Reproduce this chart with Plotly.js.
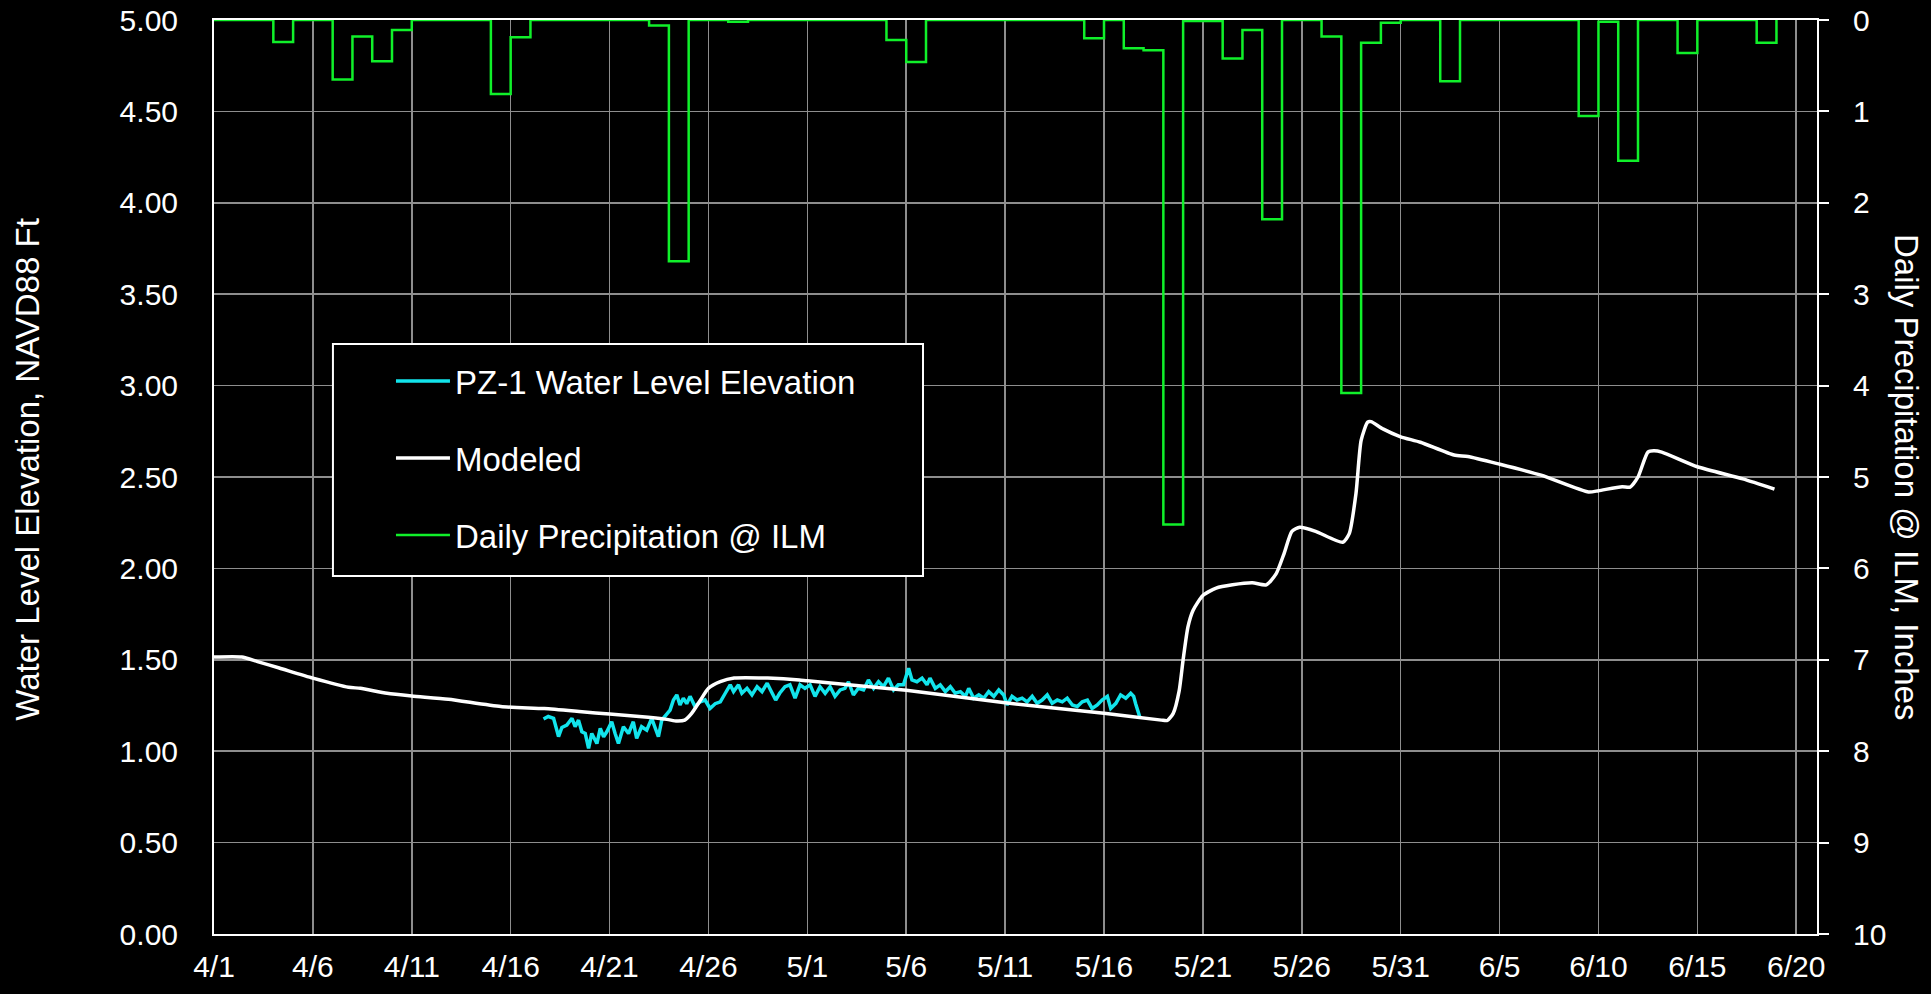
<!DOCTYPE html>
<html><head><meta charset="utf-8">
<script src="https://cdn.plot.ly/plotly-3.0.1.min.js"></script>
<style>html,body{margin:0;padding:0;background:#000;}#chart{width:1931px;height:994px;}</style>
</head><body><div id="chart"></div>
<script>
// ---- data (x = days after 4/1) ----
const startYear = 2019, startMonth = 3, startDay = 1; // 4/1
const xTickLabelsDays = [0,5,10,15,20,25,30,35,40,45,50,55,60,65,70,75,80];

// Daily precipitation @ ILM (inches), one value per day from 4/1
const precipInches = [
  0,0,0,0.24,0,0,0.65,0.18,0.45,0.11,
  0,0,0,0,0.81,0.19,0,0,0,0,
  0,0,0.06,2.64,0,0,0.02,0,0,0,
  0,0,0,0,0.22,0.46,0,0,0,0,
  0,0,0,0,0.20,0,0.31,0.33,5.52,0.01,
  0.01,0.42,0.11,2.18,0,0,0.18,4.08,0.25,0.03,
  0,0,0.67,0,0,0,0,0,0,1.05,
  0.02,1.54,0,0,0.36,0,0,0,0.25,0
];

// Modeled water level (ft NAVD88)
const modeledDays = [0,1.4,2.2,3.3,5,6.8,7.4,8.75,10,11.85,
  14.5,16.7,18.6,20,21.5,22.9,23.4,23.8,24.15,24.6,
  25,25.6,26.3,28,29.6,30,35,40,45,47.9,
  48.2,48.5,48.8,49,49.24,49.5,50,50.67,51.5,52.5,
  53.2,53.7,54.1,54.5,54.9,55.7,57.07,57.4,57.74,58.0,
  58.33,58.5,59.1,60,61,62.7,63.4,65,67.1,69.5,
  70,71.2,71.6,72,72.5,72.8,73.2,75,77.3,78.9];
const modeledFt = [1.515,1.515,1.49,1.455,1.40,1.35,1.344,1.317,1.302,1.284,
  1.244,1.233,1.216,1.203,1.19,1.174,1.165,1.17,1.207,1.28,
  1.344,1.38,1.40,1.40,1.39,1.385,1.333,1.265,1.207,1.17,
  1.168,1.207,1.33,1.50,1.678,1.77,1.852,1.892,1.91,1.921,
  1.91,1.97,2.08,2.203,2.225,2.203,2.143,2.19,2.41,2.70,
  2.80,2.803,2.763,2.72,2.69,2.62,2.612,2.57,2.51,2.418,
  2.425,2.447,2.445,2.50,2.636,2.643,2.636,2.556,2.49,2.434];

// PZ-1 measured water level (ft NAVD88)
const pz1Days = [16.66,16.9,17.17,17.42,17.59,17.84,18.1,18.26,18.43,18.6,
  18.77,18.94,19.1,19.36,19.53,19.7,19.86,20.11,20.28,20.45,
  20.7,20.96,21.2,21.37,21.62,21.88,22.13,22.3,22.47,22.64,
  22.89,23.06,23.23,23.4,23.56,23.73,23.9,24.07,24.32,24.58,
  24.83,25.08,25.34,25.6,25.85,26.1,26.27,26.52,26.69,26.95,
  27.2,27.46,27.71,27.97,28.14,28.4,28.6,28.87,29.12,29.38,
  29.63,29.88,30.14,30.39,30.64,30.9,31.15,31.4,31.66,31.9,
  32.08,32.33,32.58,32.84,33.09,33.35,33.6,33.85,34.1,34.36,
  34.6,34.86,35.12,35.29,35.54,35.8,36.05,36.2,36.47,36.72,
  36.98,37.23,37.48,37.74,37.99,38.16,38.41,38.67,38.92,39.17,
  39.43,39.68,39.93,40.1,40.35,40.6,40.86,41.11,41.37,41.62,
  41.87,42.13,42.38,42.64,42.89,43.14,43.4,43.65,43.9,44.16,
  44.4,44.66,44.9,45.17,45.34,45.6,45.84,46.1,46.35,46.5,
  46.6,46.7,46.8];
const pz1Ft = [1.176,1.19,1.18,1.08,1.13,1.143,1.18,1.134,1.17,1.106,
  1.097,1.015,1.097,1.042,1.125,1.079,1.106,1.161,1.097,1.042,
  1.134,1.097,1.161,1.07,1.134,1.115,1.18,1.134,1.079,1.17,
  1.207,1.225,1.28,1.308,1.253,1.29,1.26,1.30,1.244,1.27,
  1.28,1.234,1.26,1.27,1.317,1.363,1.326,1.363,1.317,1.344,
  1.308,1.353,1.326,1.372,1.335,1.28,1.317,1.353,1.363,1.29,
  1.363,1.344,1.363,1.30,1.353,1.317,1.353,1.30,1.335,1.344,
  1.38,1.308,1.344,1.335,1.39,1.344,1.38,1.353,1.40,1.335,
  1.363,1.363,1.454,1.39,1.38,1.40,1.363,1.40,1.344,1.363,
  1.326,1.353,1.317,1.326,1.30,1.344,1.29,1.308,1.29,1.326,
  1.30,1.335,1.308,1.253,1.30,1.28,1.29,1.27,1.30,1.262,
  1.28,1.308,1.262,1.28,1.27,1.29,1.253,1.244,1.27,1.28,
  1.234,1.253,1.28,1.30,1.234,1.262,1.308,1.29,1.317,1.30,
  1.26,1.22,1.19];

// ---- helpers ----
const DAY_MS = 86400000;
const T0 = Date.UTC(startYear, startMonth, startDay);
const toDate = d => T0 + d * DAY_MS;

const FONT = 'Liberation Sans, Arial, sans-serif';
const GRID = '#8e8e8e';

const traces = [
  {
    name: 'PZ-1 Water Level Elevation',
    x: pz1Days.map(toDate), y: pz1Ft,
    type: 'scatter', mode: 'lines',
    line: {color: '#12E4EC', width: 3.5},
    legendgroup: 'a', xaxis: 'x', yaxis: 'y'
  },
  {
    name: 'Modeled',
    x: modeledDays.map(toDate), y: modeledFt,
    type: 'scatter', mode: 'lines',
    line: {color: '#FFFFFF', width: 3.5, shape: 'spline', smoothing: 0.6},
    legendgroup: 'b', xaxis: 'x', yaxis: 'y'
  },
  {
    name: 'Daily Precipitation @ ILM',
    x: precipInches.map((v, i) => toDate(i)), y: precipInches,
    type: 'scatter', mode: 'lines',
    line: {color: '#10F02A', width: 2.5, shape: 'hv'},
    legendgroup: 'c', xaxis: 'x', yaxis: 'y2'
  }
];

const layout = {
  width: 1931, height: 994,
  paper_bgcolor: '#000', plot_bgcolor: '#000',
  margin: {l: 214, r: 114, t: 20, b: 60},
  font: {family: FONT, color: '#fff', size: 30},
  showlegend: true,
  legend: {
    x: 0.1104, y: 0.6355, xanchor: 'left', yanchor: 'top',
    bgcolor: 'rgba(0,0,0,0)', borderwidth: 0,
    font: {family: FONT, size: 33, color: '#fff'},
    traceorder: 'grouped', tracegroupgap: 31, itemwidth: 54
  },
  xaxis: {
    type: 'date',
    range: [toDate(0), toDate(81.05)],
    tick0: toDate(xTickLabelsDays[0]), dtick: 5 * DAY_MS,
    tickformat: '%-m/%-d',
    showgrid: true, gridcolor: GRID, gridwidth: 1.5,
    showline: true, linecolor: '#fff', linewidth: 2, mirror: true,
    ticks: 'outside', ticklen: 5, tickcolor: 'rgba(0,0,0,0)',
    tickfont: {family: FONT, size: 30, color: '#fff'},
    zeroline: false, fixedrange: true
  },
  yaxis: {
    range: [0, 5], dtick: 0.5, tick0: 0, tickformat: '.2f',
    showgrid: true, gridcolor: GRID, gridwidth: 1.5,
    showline: true, linecolor: '#fff', linewidth: 2,
    ticks: 'outside', ticklen: 28, tickcolor: 'rgba(0,0,0,0)',
    tickfont: {family: FONT, size: 30, color: '#fff'},
    zeroline: false, fixedrange: true
  },
  yaxis2: {
    overlaying: 'y', side: 'right',
    range: [10, 0], dtick: 1, tick0: 0,
    showgrid: false,
    showline: true, linecolor: '#fff', linewidth: 2,
    ticks: 'outside', ticklen: 10, tickcolor: '#fff', tickwidth: 2,
    ticklabelstandoff: 18,
    tickfont: {family: FONT, size: 30, color: '#fff'},
    zeroline: false, fixedrange: true
  },
  shapes: [{
    type: 'rect', xref: 'paper', yref: 'paper', layer: 'above',
    x0: 0.0742, x1: 0.4423, y0: 0.3917, y1: 0.6455,
    fillcolor: '#000', line: {color: '#fff', width: 2}
  }],
  annotations: [
    {text: 'Water Level Elevation, NAVD88 Ft', xref: 'paper', yref: 'paper',
     x: -0.116, y: 0.508, xanchor: 'center', yanchor: 'middle', textangle: -90,
     showarrow: false, font: {family: FONT, size: 33, color: '#fff'}},
    {text: 'Daily Precipitation @ ILM, Inches', xref: 'paper', yref: 'paper',
     x: 1.0555, y: 0.499, xanchor: 'center', yanchor: 'middle', textangle: 90,
     showarrow: false, font: {family: FONT, size: 33, color: '#fff'}}
  ]
};

Plotly.newPlot('chart', traces, layout, {displayModeBar: false, staticPlot: true});
</script>
</body></html>
